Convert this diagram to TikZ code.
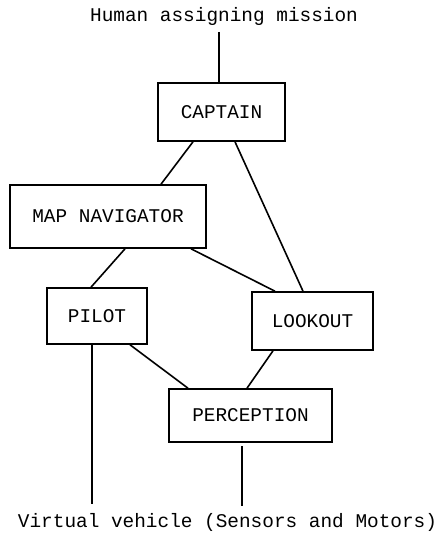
\documentclass[tikz,border=0pt]{standalone}
\usepackage{fontspec}
\setmainfont{Liberation Mono}
\begin{document}
\begin{tikzpicture}[x=1pt,y=-1pt,
  box/.style={draw,line width=1.6pt,inner sep=0pt,font=\fontsize{19.4}{22}\selectfont},
  lbl/.style={inner sep=0pt,font=\fontsize{19.4}{22}\selectfont},
  conn/.style={line width=1.6pt}]
\useasboundingbox (0,0) rectangle (439,535);
\node[lbl] (human) at (224,16) {Human assigning mission};
\node[lbl] (vehicle) at (227.5,522) {Virtual vehicle (Sensors and Motors)};
\node[box,minimum width=127pt,minimum height=58pt] (captain) at (221.5,112) {CAPTAIN};
\node[box,minimum width=196pt,minimum height=63pt] (mapnav) at (108,216.5) {MAP NAVIGATOR};
\node[box,minimum width=100pt,minimum height=56pt] (pilot) at (97,316) {PILOT};
\node[box,minimum width=121pt,minimum height=58pt] (lookout) at (312.5,321) {LOOKOUT};
\node[box,minimum width=163pt,minimum height=53pt] (perception) at (250.5,415.5) {PERCEPTION};
\coordinate (topend) at (219,32);
\coordinate (pilotend) at (92,504);
\coordinate (percstart) at (242,446);
\coordinate (percend) at (242,506);
\draw[conn] (topend) -- ([xshift=-2.5pt]captain.north);
\draw[conn] ([xshift=-28.5pt]captain.south) -- ([xshift=53pt]mapnav.north);
\draw[conn] ([xshift=13.5pt]captain.south) -- ([xshift=-9.5pt]lookout.north);
\draw[conn] ([xshift=17pt]mapnav.south) -- ([xshift=-6pt]pilot.north);
\draw[conn] ([xshift=83pt]mapnav.south) -- ([xshift=-37.5pt]lookout.north);
\draw[conn] ([xshift=33pt]pilot.south) -- ([xshift=-62.5pt]perception.north);
\draw[conn] ([xshift=-39.5pt]lookout.south) -- ([xshift=-3.5pt]perception.north);
\draw[conn] ([xshift=-5pt]pilot.south) -- (pilotend);
\draw[conn] (percstart) -- (percend);
\end{tikzpicture}
\end{document}
